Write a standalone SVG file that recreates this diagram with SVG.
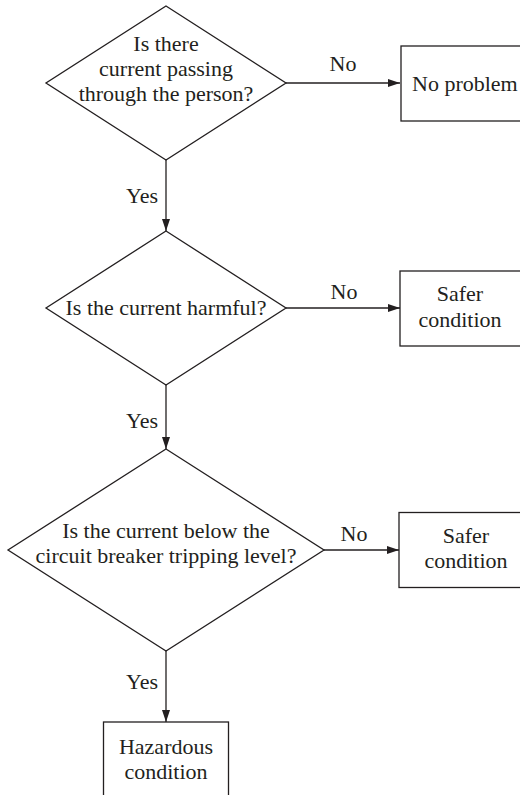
<svg xmlns="http://www.w3.org/2000/svg" width="520" height="795" viewBox="0 0 520 795">
<defs>
<style>
.shape{fill:#fff;stroke:#231f20;stroke-width:1.3}
.line{fill:none;stroke:#231f20;stroke-width:1.3}
text{font-family:"Liberation Serif","Times New Roman",serif;font-size:22px;fill:#231f20}
.c{text-anchor:middle}
.r{text-anchor:end}
</style>
<marker id="arr" viewBox="0 0 12 8" refX="12" refY="4" markerWidth="12" markerHeight="8" markerUnits="userSpaceOnUse" orient="auto">
<path d="M0,0 L12,4 L0,8 Z" fill="#231f20"/>
</marker>
</defs>
<rect width="520" height="795" fill="#fff"/>
<g id="connectors">
<line class="line" x1="286" y1="83" x2="400" y2="83" marker-end="url(#arr)"/>
<text class="c" x="343" y="71">No</text>
<line class="line" x1="166" y1="160" x2="166" y2="231" marker-end="url(#arr)"/>
<text class="r" x="158" y="203">Yes</text>
<line class="line" x1="286" y1="308" x2="400" y2="308" marker-end="url(#arr)"/>
<text class="c" x="344" y="299">No</text>
<line class="line" x1="166" y1="385" x2="166" y2="449" marker-end="url(#arr)"/>
<text class="r" x="158" y="428">Yes</text>
<line class="line" x1="324" y1="550" x2="399" y2="550" marker-end="url(#arr)"/>
<text class="c" x="354" y="541">No</text>
<line class="line" x1="166" y1="651" x2="166" y2="722" marker-end="url(#arr)"/>
<text class="r" x="158" y="689">Yes</text>
</g>
<g id="q1">
<polygon class="shape" points="166,6 286,83 166,160 46,83"/>
<text class="c" x="166" y="51">Is there</text>
<text class="c" x="166" y="76">current passing</text>
<text class="c" x="166" y="101">through the person?</text>
</g>
<g id="noproblem">
<rect class="shape" x="401" y="46" width="140" height="75"/>
<text x="412" y="91">No problem</text>
</g>
<g id="q2">
<polygon class="shape" points="166,231 286,308 166,385 46,308"/>
<text class="c" x="166" y="315">Is the current harmful?</text>
</g>
<g id="safer1">
<rect class="shape" x="400" y="271" width="140" height="75"/>
<text class="c" x="460" y="301">Safer</text>
<text class="c" x="460" y="327">condition</text>
</g>
<g id="q3">
<polygon class="shape" points="166,449 324,550 166,651 8,550"/>
<text class="c" x="166" y="538">Is the current below the</text>
<text class="c" x="166" y="563">circuit breaker tripping level?</text>
</g>
<g id="safer2">
<rect class="shape" x="399" y="512.5" width="140" height="75"/>
<text class="c" x="466" y="543">Safer</text>
<text class="c" x="466" y="568">condition</text>
</g>
<g id="hazard">
<rect class="shape" x="103.5" y="722" width="125" height="90"/>
<text class="c" x="166" y="754">Hazardous</text>
<text class="c" x="166" y="779">condition</text>
</g>
</svg>
